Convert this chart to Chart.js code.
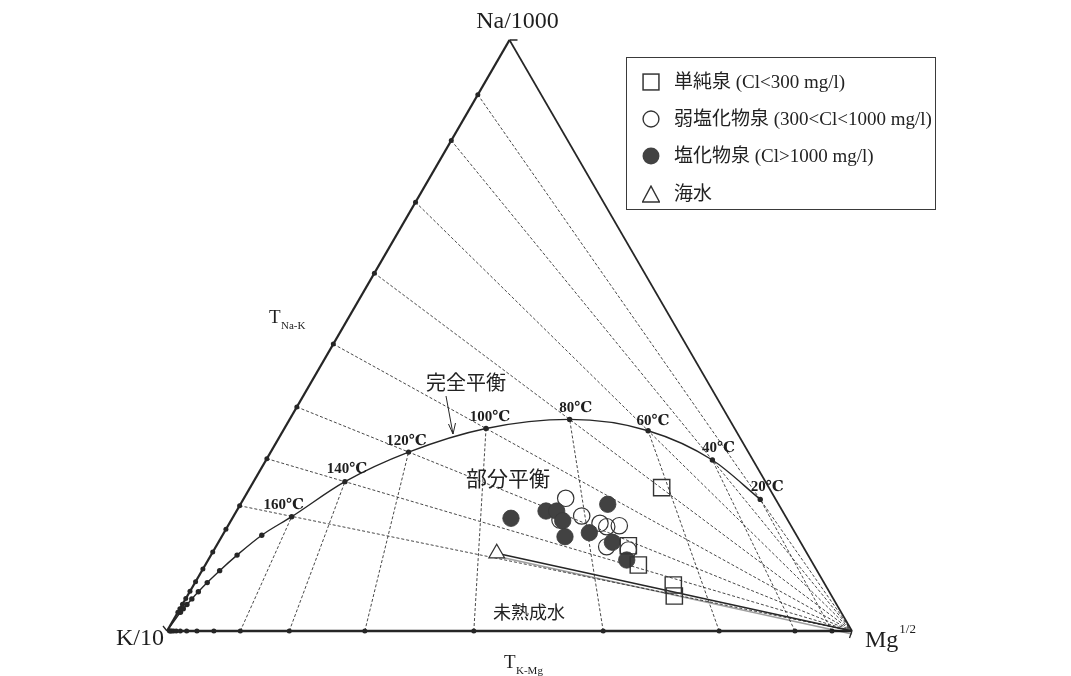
<!DOCTYPE html>
<html lang="ja">
<head>
<meta charset="utf-8">
<title>Na/1000 – K/10 – Mg1/2 平衡図</title>
<script src="https://cdn.jsdelivr.net/npm/chart.js@4.4.1/dist/chart.umd.min.js"></script>
<style>
  html, body { margin: 0; padding: 0; background: #fff; }
  #wrap { position: relative; width: 1071px; height: 676px; overflow: hidden; background: #fff; }
  #chart { position: absolute; left: 0; top: 0; }
  #legend { position: absolute; left: 626px; top: 57px; width: 310px; height: 153px; box-sizing: border-box;
            border: 1.3px solid #3a3a3a; color: #222;
            font-family: "Liberation Serif", "Noto Sans CJK JP", serif; font-size: 19px; }
  #legend .item { position: absolute; left: 0; right: 0; height: 24px; }
  #legend svg { position: absolute; left: 15px; top: 3px; }
  #legend span { position: absolute; left: 47px; top: 0; line-height: 24px; white-space: nowrap; }
</style>
</head>
<body>
<div id="wrap">
  <canvas id="chart" width="1071" height="676"></canvas>
  <div id="legend"></div>
</div>
<script>
// ---- full-equilibrium nodes (°C); composition in % of Na/1000, √Mg (K/10 is the rest)
const eqTemps = [340, 320, 300, 280, 260, 240, 220, 200, 180, 160, 140, 120, 100, 80, 60, 40, 20];
const eqNa    = [3.17, 3.76, 4.49, 5.43, 6.63, 8.19, 10.21, 12.84, 16.21, 19.34, 25.27, 30.27, 34.27, 35.80, 33.89, 28.93, 22.27];
const eqMg    = [0.38, 0.50, 0.67, 0.91, 1.26, 1.78, 2.58, 3.81, 5.73, 8.53, 13.34, 20.13, 29.44, 40.88, 53.29, 65.15, 75.47];
// Na–K geothermometer ticks on the K–Na side (% Na/1000)
const naKTick = [3.18, 3.77, 4.52, 5.48, 6.71, 8.34, 10.48, 13.35, 17.2, 21.2, 29.16, 37.91, 48.56, 60.55, 72.56, 83.0, 90.75];
// K–Mg geothermometer ticks on the K–Mg side (% √Mg)
const kMgTick = [0.39, 0.52, 0.70, 0.96, 1.35, 1.94, 2.87, 4.37, 6.84, 10.7, 17.85, 28.88, 44.79, 63.68, 80.61, 91.67, 97.08];
// isotherms drawn and labelled
const labelledTemps = [160, 140, 120, 100, 80, 60, 40, 20];

// ---- hot-spring samples (% Na/1000, % √Mg)
const simpleNa = [24.25, 14.43, 11.17, 7.78, 5.92];
const simpleMg = [60.09, 60.13, 63.22, 70.02, 71.10];
const weakNa   = [22.45, 18.78, 19.46, 18.22, 17.65, 17.82, 14.26, 13.71];
const weakMg   = [46.98, 47.98, 50.81, 54.10, 55.37, 57.12, 57.06, 60.49];
const chlorNa  = [19.07, 20.30, 20.30, 18.66, 15.96, 16.63, 21.44, 15.01, 12.01];
const chlorMg  = [40.68, 45.18, 46.74, 48.44, 50.12, 53.34, 53.62, 57.51, 61.11];
const seaNa    = [13.15];
const seaMg    = [41.56];

const groupNames  = ['単純泉 (Cl<300 mg/l)', '弱塩化物泉 (300<Cl<1000 mg/l)', '塩化物泉 (Cl>1000 mg/l)', '海水'];
const regionNames = ['完全平衡', '部分平衡', '未熟成水'];
const cornerNames = ['Na/1000', 'K/10', 'Mg', '1/2'];

// ---- ternary → plane: x = √Mg + Na/2, y = Na
const ink = '#262626';
const P = (na, mg) => ({ x: mg + na / 2, y: na });
const zip = (na, mg) => na.map((v, i) => P(v, mg[i]));
const line = { type: 'scatter', showLine: true, pointRadius: 0, fill: false, clip: false, borderColor: ink, backgroundColor: ink };
const dash = { borderWidth: 0.9, borderDash: [3, 2], borderColor: '#333', order: 9 };

const datasets = [];
// frame
datasets.push({ ...line, data: [P(0, 0), P(100, 0)], borderWidth: 2.3, order: 8 });
datasets.push({ ...line, data: [P(100, 0), P(0, 100)], borderWidth: 1.7, order: 8 });
datasets.push({ ...line, data: [P(0, 0), P(0, 100)], borderWidth: 2.3, order: 8 });
// isotherms
labelledTemps.forEach(t => {
  const i = eqTemps.indexOf(t);
  datasets.push({ ...line, ...dash, data: [P(naKTick[i], 0), P(0, 100)] });
  datasets.push({ ...line, ...dash, data: [P(0, kMgTick[i]), P(eqNa[i], eqMg[i])] });
});
// tick dots on both sides
datasets.push({ ...line, showLine: false, data: naKTick.map(v => P(v, 0)), pointRadius: 2.5, borderWidth: 0, order: 6 });
datasets.push({ ...line, showLine: false, data: kMgTick.map(v => P(0, v)), pointRadius: 2.5, borderWidth: 0, order: 6 });
// full-equilibrium curve
const curve = [P(0, 0)].concat(zip(eqNa, eqMg));
datasets.push({ ...line, data: curve, borderWidth: 1.4, cubicInterpolationMode: 'monotone',
  pointRadius: curve.map((p, i) => i === 0 ? 0 : 2.7), pointBorderWidth: 0, order: 7 });
// seawater mixing line
const seaLineIndex = datasets.length;
datasets.push({ ...line, data: [P(seaNa[0], seaMg[0]), P(0, 100)], borderWidth: 1.7, order: 5 });
// samples
datasets.push({ type: 'scatter', label: groupNames[1], data: zip(weakNa, weakMg), clip: false, pointStyle: 'circle',
  pointRadius: 8.2, borderWidth: 1.2, borderColor: '#333', backgroundColor: 'rgba(0,0,0,0)', order: 3 });
datasets.push({ type: 'scatter', label: groupNames[2], data: zip(chlorNa, chlorMg), clip: false, pointStyle: 'circle',
  pointRadius: 8.2, borderWidth: 0.8, borderColor: '#3a3a3a', backgroundColor: '#424242', order: 2 });
datasets.push({ type: 'scatter', label: groupNames[0], data: zip(simpleNa, simpleMg), clip: false, pointStyle: 'rect',
  pointRadius: 11.5, borderWidth: 1.4, borderColor: '#333', backgroundColor: 'rgba(0,0,0,0)', order: 1 });
datasets.push({ type: 'scatter', label: groupNames[3], data: zip(seaNa, seaMg), clip: false, pointStyle: 'triangle',
  pointRadius: 9, borderWidth: 1.3, borderColor: '#333', backgroundColor: '#fff', order: 1 });

// label offsets (px) from each curve node to its temperature label centre
const tempLabelOffset = { 20: [7, -12], 40: [6, -12], 60: [5, -10], 80: [6, -11], 100: [4, -11], 120: [-2, -11], 140: [2, -13], 160: [-8, -12] };

const ternaryText = {
  id: 'ternaryText',
  beforeDatasetDraw(chart, args) {
    if (args.index === seaLineIndex) {
      const c = chart.ctx;
      c.save();
      c.shadowColor = 'rgba(0,0,0,0.38)';
      c.shadowOffsetY = 3;
      c.shadowOffsetX = 0;
      c.shadowBlur = 0.5;
    }
  },
  afterDatasetDraw(chart, args) {
    if (args.index === seaLineIndex) chart.ctx.restore();
  },
  afterDatasetsDraw(chart) {
    const { ctx, scales: { x, y } } = chart;
    const px = p => [x.getPixelForValue(p.x), y.getPixelForValue(p.y)];
    const [ax, ay] = px(P(100, 0));
    const [kx, ky] = px(P(0, 0));
    const [mx, my] = px(P(0, 100));
    ctx.save();
    ctx.strokeStyle = ink;
    ctx.fillStyle = '#1e1e1e';
    ctx.lineWidth = 1.3;
    // end ticks at the corners
    ctx.beginPath();
    ctx.moveTo(ax, ay); ctx.lineTo(ax + 8, ay);
    ctx.moveTo(kx, ky); ctx.lineTo(kx - 4, ky - 5);
    ctx.moveTo(mx, my); ctx.lineTo(mx - 2.5, my + 7);
    ctx.stroke();

    // corner names
    const serif = '"Liberation Serif", "DejaVu Serif", serif';
    ctx.font = '24px ' + serif;
    ctx.textBaseline = 'alphabetic';
    ctx.textAlign = 'center';
    ctx.fillText(cornerNames[0], ax + 8, ay - 12);
    ctx.textAlign = 'right';
    ctx.fillText(cornerNames[1], kx - 3, ky + 14);
    ctx.textAlign = 'left';
    ctx.fillText(cornerNames[2], mx + 13, my + 16);
    const mgW = ctx.measureText(cornerNames[2]).width;
    ctx.font = '13px ' + serif;
    ctx.fillText(cornerNames[3], mx + 14 + mgW, my + 2);

    // geothermometer names
    ctx.font = '19px ' + serif;
    ctx.fillText('T', 269, 323);
    ctx.font = '11px ' + serif;
    ctx.fillText('Na-K', 281, 329);
    ctx.font = '19px ' + serif;
    ctx.fillText('T', 504, 668);
    ctx.font = '11px ' + serif;
    ctx.fillText('K-Mg', 516, 674);

    // temperature labels
    ctx.font = 'bold 15px "Liberation Serif", "DejaVu Serif", "Noto Sans CJK JP", serif';
    ctx.textAlign = 'center';
    ctx.textBaseline = 'middle';
    labelledTemps.forEach(t => {
      const i = eqTemps.indexOf(t);
      const [cx, cy] = px(P(eqNa[i], eqMg[i]));
      const [dx, dy] = tempLabelOffset[t];
      ctx.fillText(t + '℃', cx + dx, cy + dy);
    });

    // field names
    const sans = '"Noto Sans CJK JP", sans-serif';
    ctx.fillStyle = '#222';
    ctx.font = '20px ' + sans;
    ctx.fillText(regionNames[0], 466, 382);
    ctx.font = '21px ' + sans;
    ctx.fillText(regionNames[1], 508, 478);
    ctx.font = '18px ' + sans;
    ctx.fillText(regionNames[2], 529, 612);

    // pointer to the full-equilibrium curve
    ctx.lineWidth = 1;
    ctx.beginPath();
    ctx.moveTo(446, 396); ctx.lineTo(453, 434);
    ctx.moveTo(448.5, 424); ctx.lineTo(453, 434); ctx.lineTo(455.5, 423);
    ctx.stroke();
    ctx.restore();
  }
};

new Chart(document.getElementById('chart'), {
  type: 'scatter',
  data: { datasets },
  options: {
    responsive: false,
    devicePixelRatio: 1,
    animation: false,
    events: [],
    layout: { padding: { left: 167, right: 219, top: 40, bottom: 45 } },
    scales: {
      x: { type: 'linear', min: 0, max: 100, display: false },
      y: { type: 'linear', min: 0, max: 100, display: false }
    },
    plugins: { legend: { display: false }, tooltip: { enabled: false } }
  },
  plugins: [ternaryText]
});

// legend box
const legendMarks = [
  '<rect x="1" y="1" width="15" height="15" fill="none" stroke="#333" stroke-width="1.4"/>',
  '<circle cx="8.5" cy="8.5" r="7.5" fill="none" stroke="#333" stroke-width="1.3"/>',
  '<circle cx="8.5" cy="8.5" r="8" fill="#424242"/>',
  '<path d="M8.5 1 L16.5 16 L0.5 16 Z" fill="none" stroke="#333" stroke-width="1.3"/>'
];
const legendRowTop = [12, 49, 86, 124];
const legendEl = document.getElementById('legend');
groupNames.forEach((name, i) => {
  const item = document.createElement('div');
  item.className = 'item';
  item.style.top = legendRowTop[i] + 'px';
  item.innerHTML = '<svg width="18" height="18" viewBox="0 0 17 17">' + legendMarks[i] + '</svg>';
  const s = document.createElement('span');
  s.textContent = name;
  item.appendChild(s);
  legendEl.appendChild(item);
});
</script>
</body>
</html>
